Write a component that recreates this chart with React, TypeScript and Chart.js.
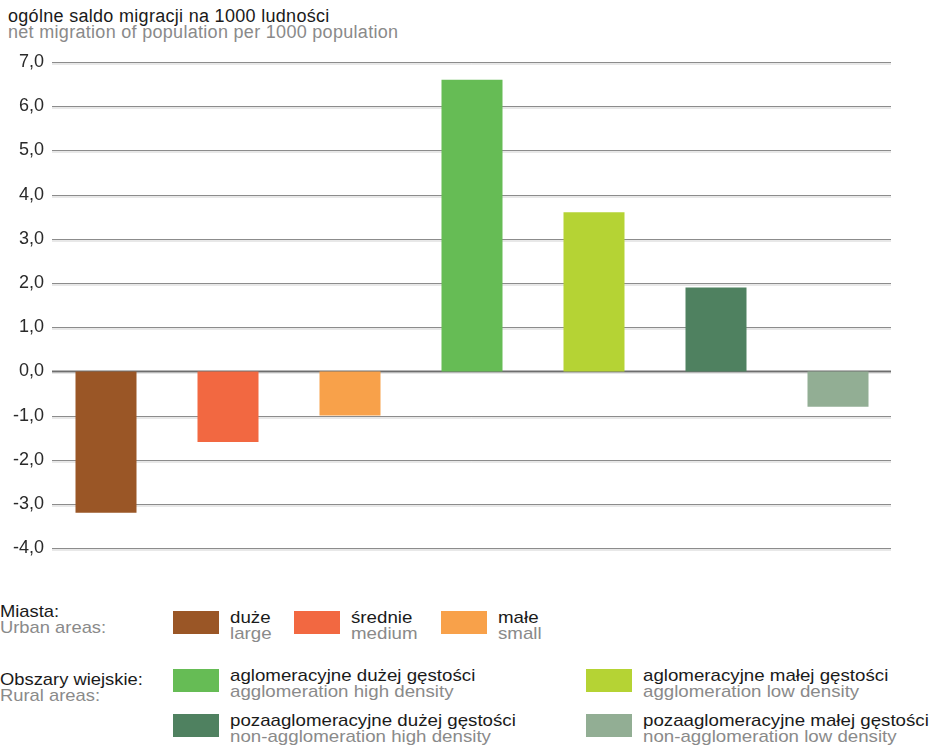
import React, { useEffect, useRef } from "react";
import { Chart, registerables } from "chart.js";

Chart.register(...registerables);

const categories = [
  "duże",
  "średnie",
  "małe",
  "aglomeracyjne dużej gęstości",
  "aglomeracyjne małej gęstości",
  "pozaaglomeracyjne dużej gęstości",
  "pozaaglomeracyjne małej gęstości",
];
const values = [-3.2, -1.6, -1.0, 6.6, 3.6, 1.9, -0.8];
const colors = ["#9A5626", "#F26841", "#F8A14A", "#66BC55", "#B5D334", "#4F8160", "#92AE94"];
const englishLabels = [
  "large",
  "medium",
  "small",
  "agglomeration high density",
  "agglomeration low density",
  "non-agglomeration high density",
  "non-agglomeration low density",
];
const yMin = -4;
const yMax = 7;
const titlePl = "ogólne saldo migracji na 1000 ludności";
const titleEn = "net migration of population per 1000 population";
const groupPl = ["Miasta:", "Obszary wiejskie:"];
const groupEn = ["Urban areas:", "Rural areas:"];

const FONT = "'Liberation Sans', Arial, sans-serif";

const gridPlugin = {
  id: "insetGrid",
  beforeDatasetsDraw(chart: any) {
    const { ctx, chartArea, scales } = chart;
    const y = scales.y;
    ctx.save();
    y.ticks.forEach((t: any) => {
      const py = Math.round(y.getPixelForValue(t.value)) + 0.5;
      const isZero = t.value === 0;
      ctx.strokeStyle = isZero ? "#6e6e6e" : "#8c8c8c";
      ctx.lineWidth = isZero ? 2 : 1.2;
      ctx.beginPath();
      ctx.moveTo(chartArea.left + 7, py);
      ctx.lineTo(chartArea.right - 8, py);
      ctx.stroke();
      ctx.strokeStyle = "rgba(190,190,190,0.7)";
      ctx.lineWidth = 1;
      ctx.beginPath();
      ctx.moveTo(chartArea.left + 7, py + 1.5);
      ctx.lineTo(chartArea.right - 8, py + 1.5);
      ctx.stroke();
    });
    ctx.restore();
  },
};

const wideText: React.CSSProperties = {
  fontSize: 17,
  lineHeight: "16px",
  whiteSpace: "nowrap",
  transform: "scaleX(1.1)",
  transformOrigin: "0 0",
};

function LegendItem({ idx, left, top }: { idx: number; left: number; top: number }) {
  return (
    <div style={{ position: "absolute", left, top }}>
      <div
        style={{
          position: "absolute",
          left: 0,
          top: 0,
          width: 46,
          height: 23,
          background: colors[idx],
        }}
      />
      <div style={{ ...wideText, position: "absolute", left: 57, top: -1 }}>
        <div style={{ color: "#1a1a1a" }}>{categories[idx]}</div>
        <div style={{ color: "#8a8a8a" }}>{englishLabels[idx]}</div>
      </div>
    </div>
  );
}

export default function App() {
  const ref = useRef<HTMLCanvasElement | null>(null);

  useEffect(() => {
    document.body.style.margin = "0";
    const chart = new Chart(ref.current as HTMLCanvasElement, {
      type: "bar",
      data: {
        labels: categories,
        datasets: [
          {
            data: values,
            backgroundColor: colors,
            barPercentage: 0.5,
            categoryPercentage: 1,
          },
        ],
      },
      options: {
        animation: false,
        responsive: false,
        maintainAspectRatio: false,
        layout: { padding: { top: 62, bottom: 11, left: 0, right: 37 } },
        plugins: { legend: { display: false }, tooltip: { enabled: false }, title: { display: false } },
        scales: {
          x: { display: false },
          y: {
            min: yMin,
            max: yMax,
            grid: { display: false, drawTicks: false, tickLength: 0 },
            border: { display: false },
            ticks: {
              stepSize: 1,
              padding: 1,
              color: "#2a2a2a",
              font: { family: FONT, size: 18 },
              callback: (v: any) => Number(v).toFixed(1).replace(".", ","),
            },
            afterFit: (scale: any) => {
              scale.width = 45;
            },
          },
        },
      },
      plugins: [gridPlugin],
    });
    return () => chart.destroy();
  }, []);

  return (
    <div style={{ position: "relative", width: 936, height: 746, fontFamily: FONT, overflow: "hidden" }}>
      <div
        style={{
          position: "absolute",
          left: 8,
          top: 8,
          fontSize: 18,
          lineHeight: "16px",
          letterSpacing: "0.3px",
          whiteSpace: "nowrap",
        }}
      >
        <div style={{ color: "#1a1a1a" }}>{titlePl}</div>
        <div style={{ color: "#8a8a8a" }}>{titleEn}</div>
      </div>
      <canvas ref={ref} width={936} height={560} style={{ position: "absolute", left: 0, top: 0 }} />
      <div style={{ ...wideText, position: "absolute", left: 0, top: 604, transform: "scaleX(1.08)" }}>
        <div style={{ color: "#1a1a1a" }}>{groupPl[0]}</div>
        <div style={{ color: "#8a8a8a" }}>{groupEn[0]}</div>
      </div>
      <div style={{ ...wideText, position: "absolute", left: 0, top: 672, transform: "scaleX(1.08)" }}>
        <div style={{ color: "#1a1a1a" }}>{groupPl[1]}</div>
        <div style={{ color: "#8a8a8a" }}>{groupEn[1]}</div>
      </div>
      <LegendItem idx={0} left={173} top={611} />
      <LegendItem idx={1} left={294} top={611} />
      <LegendItem idx={2} left={441} top={611} />
      <LegendItem idx={3} left={173} top={669} />
      <LegendItem idx={4} left={586} top={669} />
      <LegendItem idx={5} left={173} top={714} />
      <LegendItem idx={6} left={586} top={714} />
    </div>
  );
}
